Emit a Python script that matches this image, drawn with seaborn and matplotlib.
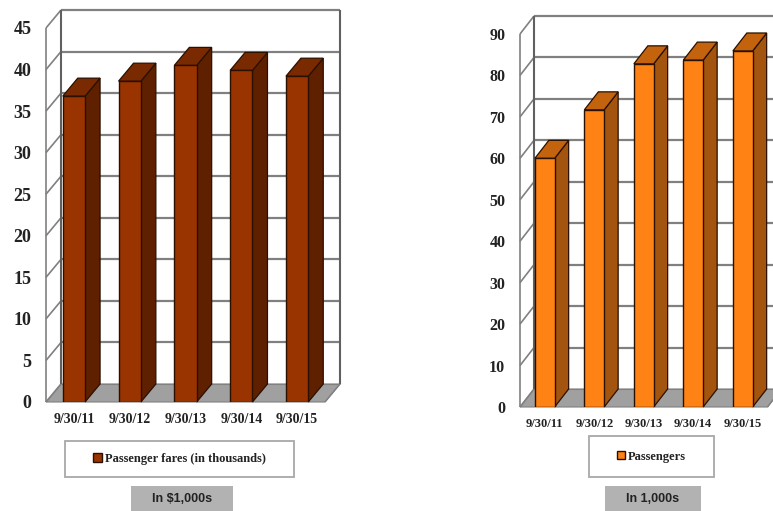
import matplotlib
matplotlib.use("Agg")
import matplotlib.pyplot as plt
from matplotlib.patches import Polygon, Rectangle
from matplotlib.transforms import IdentityTransform
import seaborn as sns

W, H = 773, 511

dates = ["9/30/11", "9/30/12", "9/30/13", "9/30/14", "9/30/15"]
fares = [36.8, 38.6, 40.5, 39.9, 39.2]
passengers = [60.0, 71.7, 82.8, 83.7, 85.9]
fare_ticks = list(range(0, 50, 5))
passenger_ticks = list(range(0, 100, 10))


def px_rect(x0, y0, x1, y1):
    # pixel box (y from the top) -> figure fraction
    return [x0 / W, 1 - y1 / H, (x1 - x0) / W, (y1 - y0) / H]


def fig_box(fig, box, **kw):
    x, y, w, h = px_rect(*box)
    fig.add_artist(Rectangle((x, y), w, h, transform=fig.transFigure, zorder=-1, **kw))


def draw_chart(fig, box, values, ticks, name, colors, legend_box, note_box, note, depth, sizes):
    ax = fig.add_axes(px_rect(*box))
    sns.barplot(x=dates, y=values, color=colors[0], saturation=1, width=0.4,
                edgecolor="#2a1000", linewidth=1.0, ax=ax, zorder=5, label=name)
    ax.set_xlim(-0.5, 4.5)
    ax.set_ylim(ticks[0], ticks[-1])
    ax.set_yticks(ticks)
    ax.set_xticks([i - 0.5 for i in range(6)], minor=True)
    ax.patch.set_visible(False)
    sns.despine(ax=ax, left=True, bottom=True, top=True, right=True)
    ax.tick_params(axis="y", length=3.6, width=0.9, color="#808080", pad=7, labelsize=sizes[0])
    ax.tick_params(axis="x", which="major", length=0, pad=8, labelsize=sizes[1])
    ax.tick_params(axis="x", which="minor", length=2, width=0.8, color="#808080")
    for t in ax.get_xticklabels() + ax.get_yticklabels():
        t.set_fontweight("bold")
        t.set_color("#222222")

    dx, dy = depth

    def to_px(x, y):
        return ax.transData.transform((x, y))

    def add_poly(points, **kw):
        ax.add_patch(Polygon(points, closed=True, transform=IdentityTransform(),
                             clip_on=False, **kw))

    def add_line(p, q, color="#808080", lw=1.3, zorder=2):
        ax.plot([p[0], q[0]], [p[1], q[1]], color=color, lw=lw, zorder=zorder,
                transform=IdentityTransform(), clip_on=False, solid_capstyle="butt")

    # floor
    a, b = to_px(-0.5, 0), to_px(4.5, 0)
    add_poly([a, b, b + (dx, dy), a + (dx, dy)], facecolor="#a0a0a0", edgecolor="#808080",
             linewidth=0.8, zorder=1)

    # back wall grid and the diagonals on the side wall
    for v in ticks:
        p, q = to_px(-0.5, v), to_px(4.5, v)
        add_line(p + (dx, dy), q + (dx, dy), lw=1.6 if v > 0 else 0.8)
        add_line(p, p + (dx, dy), lw=1.2)
    top_l, top_r = to_px(-0.5, ticks[-1]), to_px(4.5, ticks[-1])
    bot_l, bot_r = to_px(-0.5, 0), to_px(4.5, 0)
    add_line(top_l, bot_l, lw=1.2)
    add_line(top_l + (dx, dy), bot_l + (dx, dy), color="#606060", lw=1.5)
    add_line(top_r + (dx, dy), bot_r + (dx, dy), color="#606060", lw=1.5)
    add_line(bot_r, bot_r + (dx, dy), lw=1.0)

    # 3d faces from the bars that seaborn made
    for bar in list(ax.patches):
        if not isinstance(bar, Rectangle):
            continue
        x0, w, h = bar.get_x(), bar.get_width(), bar.get_height()
        p0, p1 = to_px(x0 + w, 0), to_px(x0 + w, h)
        p2 = to_px(x0, h)
        add_poly([p0, p1, p1 + (dx, dy), p0 + (dx, dy)], facecolor=colors[2],
                 edgecolor="#2a1000", linewidth=0.9, zorder=4)
        add_poly([p2, p1, p1 + (dx, dy), p2 + (dx, dy)], facecolor=colors[1],
                 edgecolor="#2a1000", linewidth=0.9, zorder=4)

    # legend box and the grey note below it
    fig_box(fig, legend_box, facecolor="white", edgecolor="#a8a8a8", linewidth=1.3)
    cx = (legend_box[0] + legend_box[2]) / 2 / W
    cy = 1 - (legend_box[1] + legend_box[3]) / 2 / H
    ax.legend(loc="center", bbox_to_anchor=(cx, cy), bbox_transform=fig.transFigure, frameon=False,
              handlelength=0.65, handleheight=0.65, handletextpad=0.25, borderpad=0, borderaxespad=0,
              prop={"family": "Liberation Serif", "weight": "bold", "size": 9}, labelcolor="#222222")

    fig_box(fig, note_box, facecolor="#b2b2b2", edgecolor="none")
    fig.text((note_box[0] + note_box[2]) / 2 / W, 1 - (note_box[1] + note_box[3]) / 2 / H, note,
             ha="center", va="center", family="Liberation Sans", fontweight="bold", fontsize=9,
             color="#222222")


sns.set_theme(style="white")
plt.rcParams["font.family"] = ["Liberation Serif", "DejaVu Sans"]

fig = plt.figure(figsize=(W / 100, H / 100), dpi=100, facecolor="white")

draw_chart(fig, (46, 28, 325, 402), fares, fare_ticks, "Passenger fares (in thousands)",
           ("#993300", "#7a2a00", "#5f2000"), (65, 441, 294, 477), (131, 486, 233, 511),
           "In $1,000s", (15, 18), (13, 10))
draw_chart(fig, (520, 34, 767.5, 407), passengers, passenger_ticks, "Passengers",
           ("#ff8214", "#c4630e", "#a3540f"), (589, 436, 714, 477), (605, 486, 701, 511),
           "In 1,000s", (14, 18), (11.5, 9))

fig.savefig("out.png", dpi=100)
